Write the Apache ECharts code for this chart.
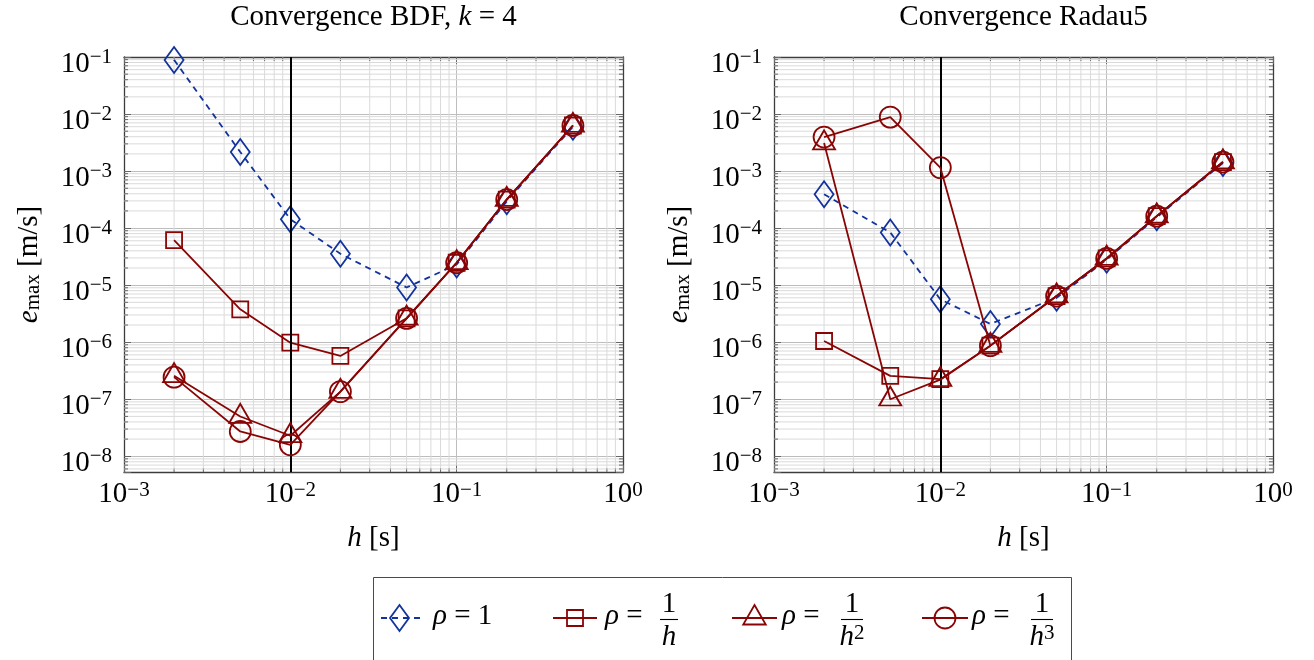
<!DOCTYPE html>
<html>
<head>
<meta charset="utf-8">
<script src="https://cdn.jsdelivr.net/npm/echarts@6/dist/echarts.min.js"></script>
<style>
  html, body { margin: 0; padding: 0; background: #ffffff; }
  #chart { width: 1314px; height: 660px; }
</style>
</head>
<body>
<div id="chart"></div>
<script>
// Step sizes h [s]
const hSteps = [0.002, 0.005, 0.01, 0.02, 0.05, 0.1, 0.2, 0.5];

// Maximum error e_max [m/s] for BDF, k = 4
const bdfRho1     = [0.089, 2.16e-3, 1.43e-4, 3.55e-5, 9.1e-6, 2.3e-5, 2.95e-4, 6.0e-3];
const bdfRhoInvH  = [6.15e-5, 3.77e-6, 9.8e-7, 5.74e-7, 2.62e-6, 2.47e-5, 3.17e-4, 6.3e-3];
const bdfRhoInvH2 = [2.57e-7, 4.98e-8, 2.29e-8, 1.36e-7, 2.62e-6, 2.47e-5, 3.17e-4, 6.3e-3];
const bdfRhoInvH3 = [2.44e-7, 2.72e-8, 1.59e-8, 1.36e-7, 2.62e-6, 2.47e-5, 3.17e-4, 6.3e-3];

// Maximum error e_max [m/s] for Radau5
const radauRho1     = [3.93e-4, 8.4e-5, 5.64e-6, 2.09e-6, 6.0e-6, 2.8e-5, 1.55e-4, 1.38e-3];
const radauRhoInvH  = [1.05e-6, 2.57e-7, 2.25e-7, 8.7e-7, 6.44e-6, 2.94e-5, 1.62e-4, 1.44e-3];
const radauRhoInvH2 = [3.1e-3, 1.0e-7, 2.2e-7, 8.7e-7, 6.44e-6, 2.94e-5, 1.62e-4, 1.44e-3];
const radauRhoInvH3 = [3.95e-3, 8.85e-3, 1.15e-3, 8.7e-7, 6.44e-6, 2.94e-5, 1.62e-4, 1.44e-3];

const seriesLabels = ['ρ = 1', 'ρ = 1/h', 'ρ = 1/h²', 'ρ = 1/h³'];
const legendDenominators = ['', '{i|h}', '{i|h}{p|2}', '{i|h}{p|3}'];
const panelTitles = ['Convergence BDF, {i|k} = 4', 'Convergence Radau5'];

// Axis ranges and grid decades
const xRange = [1e-3, 1];
const yRange = [5.3e-9, 0.1];
const refStep = 0.01;
const minorMantissas = [2, 3, 4, 5, 6, 7, 8, 9];
const xDecades = [-3, -2, -1];
const yDecades = [-9, -8, -7, -6, -5, -4, -3, -2];

const panels = [
  [bdfRho1, bdfRhoInvH, bdfRhoInvH2, bdfRhoInvH3],
  [radauRho1, radauRhoInvH, radauRhoInvH2, radauRhoInvH3]
];

const FONT = '"Liberation Serif", "Times New Roman", serif';
const BLUE = '#12339d';
const RED = '#890505';
const FRAME = '#3c3c3c';
const TICK = '#666666';
const MAJOR_GRID = '#bdbdbd';
const MINOR_GRID = '#dadada';
const LW = 1.8;

const gridBoxes = [
  { left: 124, top: 57, width: 499, height: 415 },
  { left: 774, top: 57, width: 499, height: 415 }
];

// marker look per series: blue dashed diamonds, then red squares, triangles, circles
const markStyles = [
  { color: BLUE, symbol: 'diamond', size: [19, 26], offset: [0, 0], dash: [6, 5] },
  { color: RED, symbol: 'rect', size: [16, 16], offset: [0, 0], dash: 'solid' },
  { color: RED, symbol: 'triangle', size: [22, 19], offset: [0, -3.2], dash: 'solid' },
  { color: RED, symbol: 'circle', size: [21, 21], offset: [0, 0], dash: 'solid' }
];

function powLabel(v) {
  const e = Math.log10(v);
  const r = Math.round(e);
  if (Math.abs(e - r) > 1e-6) return '';
  return '{b|10}{s|' + (r < 0 ? '\u2212' + (-r) : String(r)) + '}';
}

function minorValues(decades, lo, hi) {
  const out = [];
  decades.forEach(function (d) {
    minorMantissas.forEach(function (m) {
      const v = m * Math.pow(10, d);
      if (v > lo * 1.0001 && v < hi * 0.9999) out.push(v);
    });
  });
  return out;
}

const xMinor = minorValues(xDecades, xRange[0], xRange[1]);
const yMinor = minorValues(yDecades, yRange[0], yRange[1]);

const grids = [], xAxes = [], yAxes = [], series = [], titles = [];

gridBoxes.forEach(function (box, i) {
  grids.push(Object.assign({ containLabel: false }, box));

  titles.push({
    text: panelTitles[i],
    left: box.left + box.width / 2,
    top: 3,
    padding: 0,
    textAlign: 'center',
    textStyle: {
      fontFamily: FONT, fontSize: 29, fontWeight: 'normal', color: '#000',
      rich: { i: { fontFamily: FONT, fontSize: 29, fontStyle: 'italic', color: '#000' } }
    }
  });

  // bottom x axis with labels
  xAxes.push({
    type: 'log', logBase: 10, gridIndex: i, position: 'bottom',
    min: xRange[0], max: xRange[1],
    axisLine: { show: true, lineStyle: { color: FRAME, width: 1.3 } },
    axisTick: { show: true, inside: true, length: 7, lineStyle: { color: TICK, width: 1 } },
    splitLine: { show: true, lineStyle: { color: MAJOR_GRID, width: 1 } },
    axisLabel: {
      margin: 8, showMinLabel: true, showMaxLabel: true, hideOverlap: false,
      formatter: powLabel,
      rich: {
        b: { fontFamily: FONT, fontSize: 29, lineHeight: 29, verticalAlign: 'bottom', color: '#000' },
        s: { fontFamily: FONT, fontSize: 21, lineHeight: 16, verticalAlign: 'top', color: '#000' }
      }
    },
    name: '{i|h} [s]',
    nameLocation: 'middle',
    nameGap: 52,
    nameTextStyle: {
      fontFamily: FONT, fontSize: 29, color: '#000', verticalAlign: 'top',
      rich: { i: { fontFamily: FONT, fontSize: 29, fontStyle: 'italic', color: '#000' } }
    }
  });
  // top x axis: frame and ticks only
  xAxes.push({
    type: 'log', logBase: 10, gridIndex: i, position: 'top',
    min: xRange[0], max: xRange[1],
    axisLine: { show: true, lineStyle: { color: FRAME, width: 1.3 } },
    axisTick: { show: true, inside: true, length: 7, lineStyle: { color: TICK, width: 1 } },
    splitLine: { show: false },
    axisLabel: { show: false }
  });

  // left y axis with labels
  yAxes.push({
    type: 'log', logBase: 10, gridIndex: i, position: 'left',
    min: yRange[0], max: yRange[1], splitNumber: 7,
    axisLine: { show: true, lineStyle: { color: FRAME, width: 1.3 } },
    axisTick: { show: true, inside: true, length: 7, lineStyle: { color: TICK, width: 1 } },
    splitLine: { show: true, lineStyle: { color: MAJOR_GRID, width: 1 } },
    axisLabel: {
      margin: 12, showMinLabel: true, showMaxLabel: true, hideOverlap: false,
      formatter: powLabel,
      rich: {
        b: { fontFamily: FONT, fontSize: 29, lineHeight: 29, verticalAlign: 'bottom', color: '#000' },
        s: { fontFamily: FONT, fontSize: 21, lineHeight: 43, verticalAlign: 'middle', color: '#000' }
      }
    },
    name: '{i|e}{s|max} [m/s]',
    nameLocation: 'middle',
    nameRotate: 90,
    nameGap: 80,
    nameTextStyle: {
      fontFamily: FONT, fontSize: 29, color: '#000',
      rich: {
        i: { fontFamily: FONT, fontSize: 29, fontStyle: 'italic', lineHeight: 29, verticalAlign: 'top', color: '#000' },
        s: { fontFamily: FONT, fontSize: 21, lineHeight: 21, verticalAlign: 'bottom', color: '#000' }
      }
    }
  });
  // right y axis: frame and ticks only
  yAxes.push({
    type: 'log', logBase: 10, gridIndex: i, position: 'right',
    min: yRange[0], max: yRange[1], splitNumber: 7,
    axisLine: { show: true, lineStyle: { color: FRAME, width: 1.3 } },
    axisTick: { show: true, inside: true, length: 7, lineStyle: { color: TICK, width: 1 } },
    splitLine: { show: false },
    axisLabel: { show: false }
  });

  // minor grid lines and minor ticks of the log axes
  series.push({
    type: 'custom',
    xAxisIndex: 2 * i, yAxisIndex: 2 * i,
    z: 1, silent: true, clip: false,
    data: xMinor.map(function (v) { return [v, 1e-4, 0]; })
      .concat(yMinor.map(function (v) { return [1e-2, v, 1]; })),
    renderItem: function (params, api) {
      const cs = params.coordSys;
      const kind = api.value(2);
      const p = api.coord([api.value(0), api.value(1)]);
      const tl = 4;
      if (kind === 0) {
        const x = p[0];
        return { type: 'group', children: [
          { type: 'line', shape: { x1: x, y1: cs.y, x2: x, y2: cs.y + cs.height }, style: { stroke: MINOR_GRID, lineWidth: 1 } },
          { type: 'line', shape: { x1: x, y1: cs.y + cs.height, x2: x, y2: cs.y + cs.height - tl }, style: { stroke: TICK, lineWidth: 1 } },
          { type: 'line', shape: { x1: x, y1: cs.y, x2: x, y2: cs.y + tl }, style: { stroke: TICK, lineWidth: 1 } }
        ] };
      }
      const y = p[1];
      return { type: 'group', children: [
        { type: 'line', shape: { x1: cs.x, y1: y, x2: cs.x + cs.width, y2: y }, style: { stroke: MINOR_GRID, lineWidth: 1 } },
        { type: 'line', shape: { x1: cs.x, y1: y, x2: cs.x + tl, y2: y }, style: { stroke: TICK, lineWidth: 1 } },
        { type: 'line', shape: { x1: cs.x + cs.width, y1: y, x2: cs.x + cs.width - tl, y2: y }, style: { stroke: TICK, lineWidth: 1 } }
      ] };
    }
  });

  panels[i].forEach(function (vals, k) {
    const st = markStyles[k];
    const s = {
      type: 'line',
      name: seriesLabels[k],
      xAxisIndex: 2 * i, yAxisIndex: 2 * i,
      z: 3 + k,
      clip: false,
      animation: false,
      silent: true,
      data: hSteps.map(function (h, j) { return [h, vals[j]]; }),
      symbol: st.symbol,
      symbolSize: st.size,
      symbolOffset: st.offset,
      showAllSymbol: true,
      lineStyle: { color: st.color, width: LW, type: st.dash },
      itemStyle: { color: 'rgba(0,0,0,0)', borderColor: st.color, borderWidth: LW },
      emphasis: { disabled: true }
    };
    if (k === 0) {
      // reference step size h = 0.01 s
      s.markLine = {
        silent: true, animation: false,
        symbol: ['none', 'none'],
        label: { show: false },
        lineStyle: { color: '#000', width: 2, type: 'solid' },
        emphasis: { disabled: true },
        data: [{ xAxis: refStep }]
      };
    }
    series.push(s);
  });
});

// shared legend below both panels
const legendCfg = [
  { lineX: [381, 420], cx: 399.5, textX: 433, fracX: null },
  { lineX: [553, 597], cx: 575, textX: 605, fracX: 669 },
  { lineX: [732, 777], cx: 754.5, textX: 782, fracX: 852 },
  { lineX: [922, 968], cx: 945, textX: 972, fracX: 1042 }
];
const LY = 618;
const graphics = [{
  type: 'rect', silent: true,
  shape: { x: 373.5, y: 577.5, width: 698, height: 120 },
  style: { fill: 'none', stroke: '#4a4a4a', lineWidth: 1 }
}];

function legendMarker(k, cx, cy) {
  const st = markStyles[k];
  const style = { fill: 'none', stroke: st.color, lineWidth: LW };
  if (st.symbol === 'diamond') {
    return { type: 'polygon', silent: true, shape: { points: [[cx, cy - 13], [cx + 9.5, cy], [cx, cy + 13], [cx - 9.5, cy]] }, style: style };
  }
  if (st.symbol === 'rect') {
    return { type: 'rect', silent: true, shape: { x: cx - 8, y: cy - 8, width: 16, height: 16 }, style: style };
  }
  if (st.symbol === 'triangle') {
    const r = 13;
    return { type: 'polygon', silent: true, shape: { points: [[cx, cy - r], [cx + 0.866 * r, cy + 0.5 * r], [cx - 0.866 * r, cy + 0.5 * r]] }, style: style };
  }
  return { type: 'circle', silent: true, shape: { cx: cx, cy: cy, r: 10.5 }, style: style };
}

const richLegend = {
  i: { fontFamily: FONT, fontSize: 29, fontStyle: 'italic', lineHeight: 29, verticalAlign: 'bottom', fill: '#000' },
  p: { fontFamily: FONT, fontSize: 21, lineHeight: 16, verticalAlign: 'top', fill: '#000' }
};

legendCfg.forEach(function (c, k) {
  const st = markStyles[k];
  graphics.push({
    type: 'line', silent: true,
    shape: { x1: c.lineX[0], y1: LY, x2: c.lineX[1], y2: LY },
    style: { stroke: st.color, lineWidth: LW, lineDash: k === 0 ? [6, 5] : null }
  });
  graphics.push(legendMarker(k, c.cx, LY));
  graphics.push({
    type: 'text', silent: true, x: c.textX, y: 616.5,
    style: {
      text: k === 0 ? '{i|ρ} = 1' : '{i|ρ} =',
      fontFamily: FONT, fontSize: 29, fill: '#000',
      align: 'left', verticalAlign: 'middle', rich: richLegend
    }
  });
  if (c.fracX !== null) {
    graphics.push({
      type: 'text', silent: true, x: c.fracX, y: 604,
      style: { text: '1', fontFamily: FONT, fontSize: 29, fill: '#000', align: 'center', verticalAlign: 'middle' }
    });
    const half = k === 1 ? 9 : 11;
    graphics.push({
      type: 'line', silent: true,
      shape: { x1: c.fracX - half, y1: 619.5, x2: c.fracX + half, y2: 619.5 },
      style: { stroke: '#000', lineWidth: 1.1 }
    });
    graphics.push({
      type: 'text', silent: true, x: c.fracX, y: 637,
      style: {
        text: legendDenominators[k], fontFamily: FONT, fontSize: 29, fill: '#000',
        align: 'center', verticalAlign: 'middle', rich: richLegend
      }
    });
  }
});

const chart = echarts.init(document.getElementById('chart'), null, { renderer: 'canvas' });
chart.setOption({
  animation: false,
  backgroundColor: '#ffffff',
  title: titles,
  grid: grids,
  xAxis: xAxes,
  yAxis: yAxes,
  series: series,
  graphic: graphics
});
</script>
</body>
</html>
